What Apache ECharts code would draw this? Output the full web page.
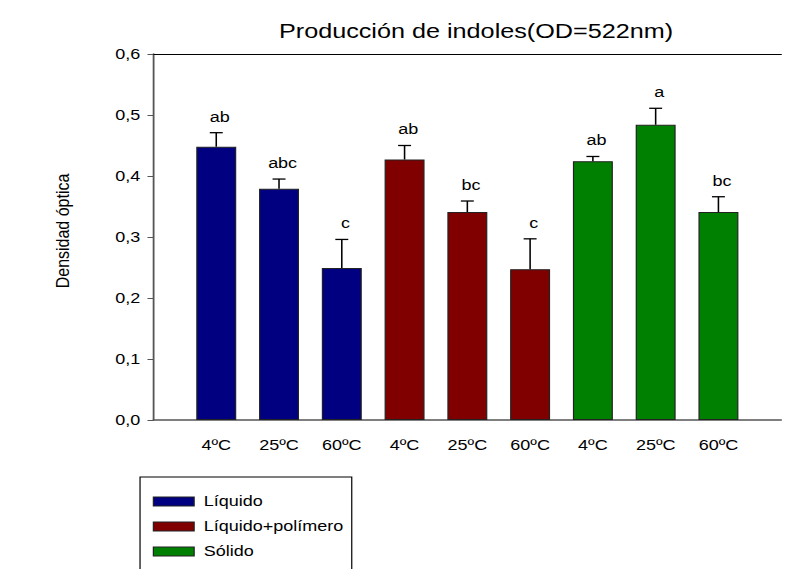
<!DOCTYPE html>
<html>
<head>
<meta charset="utf-8">
<script src="https://cdn.jsdelivr.net/npm/echarts@6/dist/echarts.min.js"></script>
<style>
  html, body { margin: 0; padding: 0; background: #fff; overflow: hidden; }
  #wrap { width: 785px; height: 569px; overflow: hidden; position: relative; }
  /* the figure is drawn slightly condensed and widened horizontally;
     the legend box runs past the lower edge of the frame */
  #chart { width: 654px; height: 600px; transform: scaleX(1.2); transform-origin: 0 0; }
</style>
</head>
<body>
<div id="wrap"><div id="chart"></div></div>
<script>
// Treatment temperatures shown under each bar
const categories = ['4ºC', '25ºC', '60ºC', '4ºC', '25ºC', '60ºC', '4ºC', '25ºC', '60ºC'];
// Formulations (legend entries)
const groups = ['Líquido', 'Líquido+polímero', 'Sólido'];
const groupColors = ['#000080', '#800000', '#008000'];

// Mean optical density at 522 nm per formulation (4ºC, 25ºC, 60ºC)
const liquido = [0.448, 0.379, 0.249];
const liquidoPolimero = [0.427, 0.341, 0.247];
const solido = [0.424, 0.484, 0.341];

// Standard error (upper whisker) per bar
const errLiquido = [0.023, 0.016, 0.047];
const errLiquidoPolimero = [0.023, 0.018, 0.050];
const errSolido = [0.008, 0.027, 0.025];

// Significance letters above each bar
const letters = ['ab', 'abc', 'c', 'ab', 'bc', 'c', 'ab', 'a', 'bc'];

// Y axis ticks
const yMin = 0, yMax = 0.6, yStep = 0.1;

const FONT = '"Liberation Sans", Arial, sans-serif';

const means = [liquido, liquidoPolimero, solido];
const errs = [errLiquido, errLiquidoPolimero, errSolido];

// Axis slots: an empty slot on each side of the nine bars
const axisCats = [''].concat(categories, ['']);

const barSeries = groups.map((name, g) => {
  const data = axisCats.map(() => '-');
  means[g].forEach((v, j) => { data[1 + g * 3 + j] = v; });
  return {
    name: name,
    type: 'bar',
    data: data,
    barWidth: 33.3,
    barGap: '-100%',
    itemStyle: { color: groupColors[g], borderColor: '#222', borderWidth: 1 },
    z: 2
  };
});

const errData = [];
means.forEach((arr, g) => arr.forEach((v, j) => {
  errData.push([1 + g * 3 + j, v, errs[g][j]]);
}));

const chart = echarts.init(document.getElementById('chart'), null, { renderer: 'svg' });

chart.setOption({
  backgroundColor: '#fff',
  animation: false,
  textStyle: { fontFamily: FONT },
  graphic: [{
    type: 'text',
    x: 396.7,
    y: 31,
    style: {
      text: 'Producción de indoles(OD=522nm)',
      font: '21px ' + FONT,
      fill: '#000',
      align: 'center',
      verticalAlign: 'middle'
    }
  }],
  legend: {
    orient: 'vertical',
    left: 116.7,
    top: 477,
    padding: [17, 7, 17, 10.6],
    itemGap: 10,
    itemWidth: 34,
    itemHeight: 9,
    borderColor: '#000',
    borderWidth: 1,
    icon: 'rect',
    textStyle: { fontSize: 15, color: '#000', fontFamily: FONT, padding: [0, 0, 0, 3] },
    data: groups.map((n, g) => ({ name: n, itemStyle: { color: groupColors[g], borderColor: '#222', borderWidth: 1 } }))
  },
  grid: { left: 127.9, right: -11.2, top: 54, bottom: 180, containLabel: false },
  xAxis: [{
    type: 'category',
    data: axisCats,
    boundaryGap: false,
    axisLine: { show: true, lineStyle: { color: '#555', width: 1.5 } },
    axisTick: { show: false },
    axisLabel: { interval: 0, color: '#000', fontSize: 15, margin: 18, fontFamily: FONT },
    splitLine: { show: false }
  }, {
    type: 'category',
    data: axisCats,
    boundaryGap: false,
    position: 'top',
    axisLine: { show: true, lineStyle: { color: '#000', width: 1.2 } },
    axisTick: { show: false },
    axisLabel: { show: false },
    splitLine: { show: false }
  }],
  yAxis: {
    type: 'value',
    min: yMin,
    max: yMax,
    interval: yStep,
    name: 'Densidad óptica',
    nameLocation: 'middle',
    nameGap: 68,
    nameTextStyle: { fontSize: 16, color: '#000', fontFamily: FONT, padding: [0, 0, 0, 12] },
    axisLine: { show: true, lineStyle: { color: '#555', width: 1.5 } },
    axisTick: { show: true, inside: false, length: 5, lineStyle: { color: '#555' } },
    axisLabel: {
      color: '#000', fontSize: 15, margin: 11, fontFamily: FONT,
      formatter: v => v.toFixed(1).replace('.', ',')
    },
    splitLine: { show: false }
  },
  series: barSeries.concat([{
    type: 'custom',
    name: 'error',
    data: errData,
    z: 5,
    silent: true,
    renderItem: (params, api) => {
      const x = api.value(0), m = api.value(1), e = api.value(2);
      const base = api.coord([x, m]);
      const top = api.coord([x, m + e]);
      const cap = 5.4;
      const ls = { stroke: '#000', lineWidth: 1.3 };
      return {
        type: 'group',
        children: [
          { type: 'line', shape: { x1: base[0], y1: base[1], x2: top[0], y2: top[1] }, style: ls },
          { type: 'line', shape: { x1: top[0] - cap, y1: top[1], x2: top[0] + cap, y2: top[1] }, style: ls },
          { type: 'text', x: top[0] + 3, y: top[1] - 16,
            style: { text: letters[params.dataIndex], font: '15px ' + FONT, fill: '#000', align: 'center', verticalAlign: 'middle' } }
        ]
      };
    }
  }])
});
</script>
</body>
</html>
